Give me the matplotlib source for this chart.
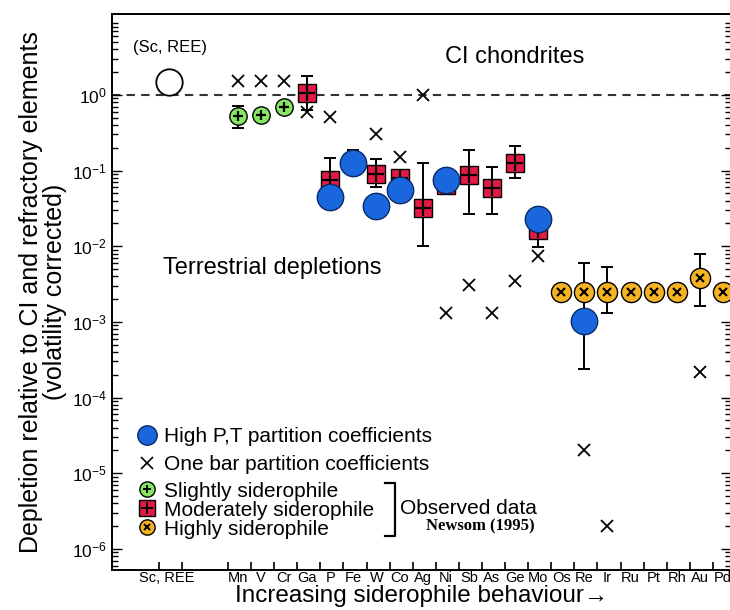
import numpy as np
import matplotlib
matplotlib.use("Agg")
from matplotlib import pyplot as plt

plt.rcParams['font.family'] = ['Liberation Sans', 'DejaVu Sans']

elements = ['Mn', 'V', 'Cr', 'Ga', 'P', 'Fe', 'W', 'Co', 'Ag', 'Ni', 'Sb', 'As',
            'Ge', 'Mo', 'Os', 'Re', 'Ir', 'Ru', 'Pt', 'Rh', 'Au', 'Pd']
xpos = {el: i for i, el in enumerate(elements)}
xpos['Sc'] = -3
xpos['REE'] = -2

# Sc, REE reference
ref_el = ['Sc']
ref_val = [1.49]

# one bar partition coefficients (crosses)
onebar_el = ['Mn', 'V', 'Cr', 'Ga', 'P', 'W', 'Co', 'Ag', 'Ni', 'Sb', 'As', 'Ge',
             'Mo', 'Re', 'Ir', 'Au']
onebar_val = [1.53, 1.53, 1.53, 0.60, 0.51, 0.30, 0.15, 1.0, 1.3e-3, 3.1e-3,
              1.3e-3, 3.5e-3, 7.4e-3, 2.0e-5, 2.0e-6, 2.2e-4]

# high P,T partition coefficients (blue circles)
highpt_el = ['P', 'Fe', 'W', 'Co', 'Ni', 'Mo', 'Re']
highpt_val = [0.045, 0.125, 0.034, 0.055, 0.074, 0.0227, 1.03e-3]
highpt_lo = [0.045, 0.125, 0.034, 0.055, 0.074, 0.0227, 2.4e-4]
highpt_hi = [0.045, 0.19, 0.034, 0.055, 0.074, 0.0227, 6.05e-3]

# observed: slightly siderophile
slight_el = ['Mn', 'V', 'Cr']
slight_val = [0.53, 0.55, 0.69]
slight_lo = [0.37, 0.55, 0.69]
slight_hi = [0.72, 0.55, 0.69]

# observed: moderately siderophile
moder_el = ['Ga', 'P', 'W', 'Co', 'Ag', 'Ni', 'Sb', 'As', 'Ge', 'Mo']
moder_val = [1.07, 0.075, 0.089, 0.08, 0.032, 0.065, 0.087, 0.059, 0.125, 0.0164]
moder_lo = [0.63, 0.05, 0.06, 0.08, 0.010, 0.065, 0.027, 0.027, 0.079, 0.0098]
moder_hi = [1.78, 0.148, 0.141, 0.08, 0.125, 0.065, 0.187, 0.11, 0.21, 0.0164]

# observed: highly siderophile
high_el = ['Os', 'Re', 'Ir', 'Ru', 'Pt', 'Rh', 'Au', 'Pd']
high_val = [2.5e-3, 2.5e-3, 2.5e-3, 2.5e-3, 2.5e-3, 2.45e-3, 3.76e-3, 2.5e-3]
high_lo = [2.5e-3, 2.5e-3, 1.3e-3, 2.5e-3, 2.5e-3, 2.45e-3, 1.6e-3, 2.5e-3]
high_hi = [2.5e-3, 2.5e-3, 5.3e-3, 2.5e-3, 2.5e-3, 2.45e-3, 7.8e-3, 2.5e-3]

blue = '#1a66dc'
red = '#e21a45'
green = '#86e660'
orange = '#f5b324'


def xs(els):
    return np.array([xpos[e] for e in els], dtype=float)


def errs(val, lo, hi):
    val = np.array(val)
    return [val - np.array(lo), np.array(hi) - val]


fig = plt.figure(figsize=(7.3, 6.1), dpi=100)
ax = fig.add_axes([112 / 730, 40 / 610, 619 / 730, 556 / 610])
ax.set_yscale('log')
ax.set_xlim(-5.45, 21.35)
ax.set_ylim(10 ** -6.28, 10 ** 1.07)

ax.axhline(1.0, color='#333333', lw=1.5, ls=(0, (4, 3)), zorder=1)

ebkw = dict(fmt='none', ecolor='black', elinewidth=1.4, capsize=4, capthick=1.4, zorder=2)
ax.errorbar(xs(moder_el), moder_val, yerr=errs(moder_val, moder_lo, moder_hi), **ebkw)
ax.errorbar(xs(slight_el), slight_val, yerr=errs(slight_val, slight_lo, slight_hi), **ebkw)
ax.errorbar(xs(high_el), high_val, yerr=errs(high_val, high_lo, high_hi), **ebkw)
ax.errorbar(xs(highpt_el), highpt_val, yerr=errs(highpt_val, highpt_lo, highpt_hi), **ebkw)

# crosses
ax.plot(xs(onebar_el), onebar_val, 'x', color='black', ms=8, mew=1.3, zorder=3)

# Sc, REE open circle
ax.plot(xs(ref_el), ref_val, 'o', mfc='white', mec='black', ms=19, mew=1.3, zorder=3)

# slightly siderophile
ax.plot(xs(slight_el), slight_val, 'o', mfc=green, mec='black', ms=12.5, mew=1.0, zorder=4)
ax.plot(xs(slight_el), slight_val, '+', color='black', ms=7, mew=1.6, zorder=5)

# moderately siderophile
ax.plot(xs(moder_el), moder_val, 's', mfc=red, mec='black', ms=13, mew=1.0, zorder=4)
ax.plot(xs(moder_el), moder_val, '+', color='black', ms=12, mew=1.6, zorder=5)

# highly siderophile
ax.plot(xs(high_el), high_val, 'o', mfc=orange, mec='black', ms=14.5, mew=1.0, zorder=4)
ax.plot(xs(high_el), high_val, 'x', color='black', ms=5.5, mew=1.5, zorder=5)

# high P,T
ax.plot(xs(highpt_el), highpt_val, 'o', mfc=blue, mec='#0a2a6a', ms=19, mew=1.0, zorder=6)

# ticks
tick_els = ['Sc', 'REE'] + elements
ax.set_xticks(xs(tick_els) - 0.43, [''] * len(tick_els))
ax.set_xticks(list(xs(elements)) + [-3.1], elements + ['Sc, REE'], minor=True)
ax.tick_params(axis='x', which='major', direction='in', length=6, width=1.2)
ax.tick_params(axis='x', which='minor', length=0, labelsize=10.5, pad=1)
ax.set_yticks([10.0 ** k for k in range(-6, 1)])
ax.tick_params(axis='y', which='both', direction='in', right=True, labelsize=12.5, width=1.0)
ax.tick_params(axis='y', which='major', length=7)
ax.tick_params(axis='y', which='minor', length=4)
for sp in ax.spines.values():
    sp.set_linewidth(1.4)

ax.set_ylabel('Depletion relative to CI and refractory elements\n(volatility corrected)',
              fontsize=18, linespacing=1.0, labelpad=4)
ax.set_xlabel('Increasing siderophile behaviour\u2192', fontsize=17.5, labelpad=0)

ax.text(-2.95, 4.2, '(Sc, REE)', fontsize=12, ha='center', va='center')
ax.text(12.0, 3.2, 'CI chondrites', fontsize=17, ha='center', va='center')
ax.text(-3.25, 5.1e-3, 'Terrestrial depletions', fontsize=17, ha='left', va='center')

# legend
h1 = ax.plot([], [], 'o', mfc=blue, mec='#0a2a6a', ms=14)[0]
h2 = ax.plot([], [], 'x', color='black', ms=8, mew=1.2)[0]
leg1 = ax.legend([h1, h2], ['High P,T partition coefficients', 'One bar partition coefficients'],
                 loc='upper left', bbox_to_anchor=(0.040, 0.257), frameon=False,
                 fontsize=15, handlelength=1.0, handletextpad=0.33, labelspacing=0.45,
                 borderaxespad=0, borderpad=0)
ax.add_artist(leg1)

g1 = ax.plot([], [], 'o', mfc=green, mec='black', ms=11, mew=1.0)[0]
g2 = ax.plot([], [], '+', color='black', ms=6, mew=1.4)[0]
r1 = ax.plot([], [], 's', mfc=red, mec='black', ms=11, mew=1.0)[0]
r2 = ax.plot([], [], '+', color='black', ms=9, mew=1.4)[0]
o1 = ax.plot([], [], 'o', mfc=orange, mec='black', ms=11, mew=1.0)[0]
o2 = ax.plot([], [], 'x', color='black', ms=4.5, mew=1.4)[0]
ax.legend([(g1, g2), (r1, r2), (o1, o2)],
          ['Slightly siderophile', 'Moderately siderophile', 'Highly siderophile'],
          loc='upper left', bbox_to_anchor=(0.040, 0.159), frameon=False,
          fontsize=15, handlelength=1.0, handletextpad=0.33, labelspacing=0.0,
          borderaxespad=0, borderpad=0)

# bracket for observed data
bx0 = (385 - 112) / 619
bx1 = (395 - 112) / 619
by0 = (570 - 536) / 556
by1 = (570 - 483) / 556
ax.plot([bx0, bx1, bx1, bx0], [by1, by1, by0, by0], color='black', lw=1.6,
        transform=ax.transAxes, clip_on=False)
ax.text((400 - 112) / 619, (570 - 508) / 556, 'Observed data', fontsize=15,
        transform=ax.transAxes, ha='left', va='center')
ax.text((535 - 112) / 619, (570 - 526) / 556, 'Newsom (1995)', fontsize=12,
        family=['Liberation Serif', 'DejaVu Serif'], weight='bold',
        transform=ax.transAxes, ha='right', va='center')

fig.savefig('out.png', dpi=100)
